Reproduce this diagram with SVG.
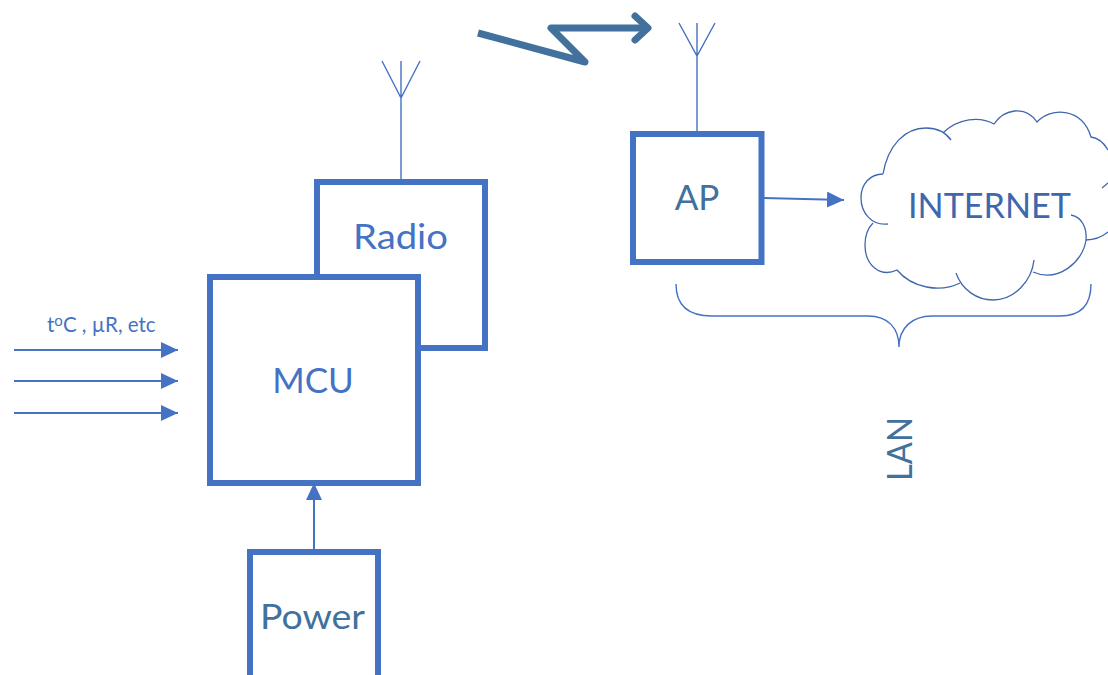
<svg xmlns="http://www.w3.org/2000/svg" width="1108" height="675" viewBox="0 0 1108 675">
<style>
.box{fill:#fff;stroke:#4472c4;stroke-width:6}
.thin{fill:none;stroke:#4472c4;stroke-width:1.4}
.arr{fill:none;stroke:#4472c4;stroke-width:2}
.cl{fill:none;stroke:#3f67ae;stroke-width:1.3}
text{font-family:Lato,"Open Sans","Liberation Sans",sans-serif}
.a{fill:#4472c4}.b{fill:#41719c}
</style>
<defs><marker id="ah" markerUnits="userSpaceOnUse" markerWidth="18" markerHeight="16" refX="17" refY="8" orient="auto"><path d="M0 0L17 8L0 16Z" fill="#4472c4"/></marker></defs>
<g id="radio"><rect class="box" x="317" y="182" width="168" height="166"/><text class="a" x="353" y="249" font-size="35" textLength="95" lengthAdjust="spacingAndGlyphs">Radio</text></g>
<g id="mcu"><rect class="box" x="210" y="277" width="208" height="206"/><text class="a" x="313" y="393" font-size="35" text-anchor="middle">MCU</text></g>
<g id="power"><rect class="box" x="250" y="552" width="128" height="140"/><text class="b" x="260" y="629" font-size="35" textLength="105" lengthAdjust="spacingAndGlyphs">Power</text></g>
<g id="ap"><rect class="box" x="633" y="134" width="128.500" height="128"/><text class="b" x="697" y="210" font-size="35" text-anchor="middle">AP</text></g>
<g id="radio-antenna"><path class="thin" d="M401 181V61M382 61L401 98L420 61"/></g>
<g id="ap-antenna"><path class="thin" d="M697 132V23M679 23L697 56L715 23"/></g>
<g id="internet"><path class="cl" d="M883 174C888 145 905 128 926 128C937 128 946 133 951 140M943 133C958 118 980 116 994 124C1003 110 1025 104 1037 122C1050 107 1082 107 1091 137C1098 138 1104 143 1108 150M1102 188L1108 183M1086 240C1095 240 1102 237 1108 232M1071 215C1082 217 1087 228 1086 240C1083 262 1058 283 1033 272M1034 260C1032 280 1015 300 993 300C977 300 962 290 956 273M960 283C940 293 912 288 897 270C880 278 865 265 865 245C865 235 868 228 873 223M888 224C872 226 861 213 861 198C861 184 870 174 883 174"/><text class="b" x="908" y="218" font-size="35" textLength="163" lengthAdjust="spacingAndGlyphs" style="fill:#3f67ae">INTERNET</text></g>
<g id="bracket"><path class="thin" d="M676 284C676 304 686 316 712 316H868C888 316 899 328 899 347C899 328 912 316 932 316H1060C1082 316 1091 304 1091 284"/></g>
<g id="lan"><text class="b" transform="translate(912 481) rotate(-90)" font-size="35" textLength="64" lengthAdjust="spacingAndGlyphs">LAN</text></g>
<g id="link"><path d="M478 33L585 62L551 28H646" fill="none" stroke="#41719c" stroke-width="7" stroke-linejoin="round"/><path d="M635 16L648 28L635 40" fill="none" stroke="#41719c" stroke-width="7" stroke-linejoin="round" stroke-linecap="round"/></g>
<g id="connectors">
<path class="arr" d="M14 350H178" marker-end="url(#ah)"/>
<path class="arr" d="M14 381H178" marker-end="url(#ah)"/>
<path class="arr" d="M14 413H178" marker-end="url(#ah)"/>
<path class="arr" d="M764 198L844 200" marker-end="url(#ah)"/>
<path class="arr" d="M314 550V483" marker-end="url(#ah)"/>
</g>
<g id="inputs-label"><text class="a" x="47" y="332" font-size="20.500">t<tspan font-size="15" dy="-6">o</tspan><tspan dy="6">C , µR, etc</tspan></text></g>
</svg>
